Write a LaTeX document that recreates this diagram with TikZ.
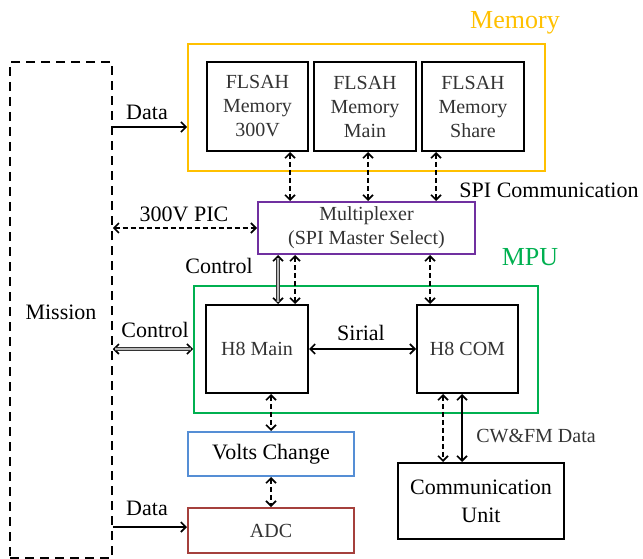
\documentclass[tikz,border=0pt]{standalone}
\usepackage{fontspec}
\setmainfont{Liberation Serif}
\usetikzlibrary{arrows.meta}
\definecolor{memcol}{HTML}{FFC000}
\definecolor{muxcol}{HTML}{7030A0}
\definecolor{mpucol}{HTML}{00B050}
\definecolor{voltcol}{HTML}{558ED5}
\definecolor{adccol}{HTML}{A5403C}
\definecolor{boxtext}{HTML}{333333}
\begin{document}
\begin{tikzpicture}[x=1pt,y=-1pt,
  box/.style={draw=black, line width=2pt, rectangle, inner sep=0pt, align=center, text=boxtext, font=\fontsize{20}{24}\selectfont},
  grp/.style={draw, line width=1.8pt, rectangle, inner sep=0pt},
  lbl/.style={anchor=base, inner sep=0pt, font=\fontsize{22}{26}\selectfont},
  tip/.style={{Straight Barb[length=5pt,width=10pt]}-{Straight Barb[length=5pt,width=10pt]}},
  arr/.style={line width=1.6pt, tip},
  dsh/.style={line width=1.6pt, tip, dash pattern=on 5pt off 3pt},
  one/.style={line width=1.6pt, -{Straight Barb[length=5pt,width=10pt]}},
  dblout/.style={line width=3.4pt, black!80, shorten <=2.5pt, shorten >=2.5pt},
  dblin/.style={line width=1.4pt, gray!55, shorten <=2.5pt, shorten >=2.5pt}
]
\useasboundingbox (0,0) rectangle (643,559);

% groups
\node[grp, draw=memcol, minimum width=357, minimum height=127] (mem) at (366.5,107.5) {};
\node[grp, draw=mpucol, minimum width=344, minimum height=127] (mpu) at (366,349.5) {};

% mission
\node[draw, line width=1.5pt, dash pattern=on 9pt off 6pt, minimum width=102, minimum height=496, inner sep=0pt] (mission) at (61,310) {};
\node[lbl] (missiont) at (61,319) {Mission};

% memory boxes
\node[box, minimum width=101, minimum height=89] (m1) at (257.5,106.5) {FLSAH\\Memory\\300V};
\node[box, minimum width=102, minimum height=89] (m2) at (365,106.5) {FLSAH\\Memory\\Main};
\node[box, minimum width=102, minimum height=89] (m3) at (473,106.5) {FLSAH\\Memory\\Share};

% multiplexer
\node[box, draw=muxcol, minimum width=217, minimum height=52, font=\fontsize{20}{24}\selectfont] (mux) at (366.5,228) {Multiplexer\\(SPI Master Select)};

% H8
\node[box, minimum width=102, minimum height=88] (h8m) at (257,349) {H8 Main};
\node[box, minimum width=101, minimum height=88] (h8c) at (467.5,349) {H8 COM};

% volts, adc, comm
\node[box, draw=voltcol, minimum width=166, minimum height=44, text=black, font=\fontsize{22}{26}\selectfont] (volts) at (271,454) {Volts Change};
\node[box, draw=adccol, minimum width=166, minimum height=45, font=\fontsize{20}{24}\selectfont] (adc) at (271,530.5) {ADC};
\node[box, minimum width=166, minimum height=76, text=black, font=\fontsize{22}{28}\selectfont] (comm) at (481,501) {Communication\\Unit};

% titles
\node[lbl, text=memcol, font=\fontsize{26}{30}\selectfont] (memt) at (515,29) {Memory};
\node[lbl, text=mpucol, font=\fontsize{26}{30}\selectfont] (mput) at (530,265) {MPU};

% connectors
\draw[one] (mission.east |- 0,127) -- (mem.west |- 0,127);
\node[lbl] (data1) at (147,120) {Data};

\draw[dsh] ([xshift=32.5]m1.south) -- ([xshift=32.5]m1.south |- mux.north);
\draw[dsh] ([xshift=3]m2.south) -- ([xshift=3]m2.south |- mux.north);
\draw[dsh] ([xshift=-37]m3.south) -- ([xshift=-37]m3.south |- mux.north);
\node[lbl] (spi) at (549,197) {SPI Communication};

\draw[dsh] (mission.east |- mux.west) -- (mux.west);
\node[lbl] (pic) at (184,222) {300V PIC};

% control (double line) mux -> H8 Main
\draw[arr] ([xshift=21]h8m.north |- mux.south) -- ([xshift=21]h8m.north);
\draw[dblout] ([xshift=21]h8m.north |- mux.south) -- ([xshift=21]h8m.north);
\draw[dblin] ([xshift=21]h8m.north |- mux.south) -- ([xshift=21]h8m.north);
\draw[dsh] ([xshift=38]h8m.north |- mux.south) -- ([xshift=38]h8m.north);
\node[lbl] (ctl1) at (219,273) {Control};

\draw[dsh] ([xshift=-37.5]h8c.north |- mux.south) -- ([xshift=-37.5]h8c.north);

% control (double line) mission -> MPU
\draw[arr] (mission.east |- h8m.west) -- (mpu.west |- h8m.west);
\draw[dblout] (mission.east |- h8m.west) -- (mpu.west |- h8m.west);
\draw[dblin] (mission.east |- h8m.west) -- (mpu.west |- h8m.west);
\node[lbl] (ctl2) at (155,337) {Control};

\draw[arr] (h8m.east) -- (h8c.west);
\node[lbl] (sir) at (361,340) {Sirial};

\draw[dsh] (volts.north |- h8m.south) -- (volts.north);
\draw[dsh] (volts.south) -- (adc.north);

\draw[one] (mission.east |- 0,527) -- (adc.west |- 0,527);
\node[lbl] (data2) at (147,515) {Data};

\draw[dsh] ([xshift=-38]comm.north |- h8c.south) -- ([xshift=-38]comm.north);
\draw[arr] ([xshift=-19]comm.north |- h8c.south) -- ([xshift=-19]comm.north);
\node[lbl, font=\fontsize{20}{24}\selectfont, text=boxtext] (cw) at (536,442) {CW\&FM Data};
\end{tikzpicture}
\end{document}
